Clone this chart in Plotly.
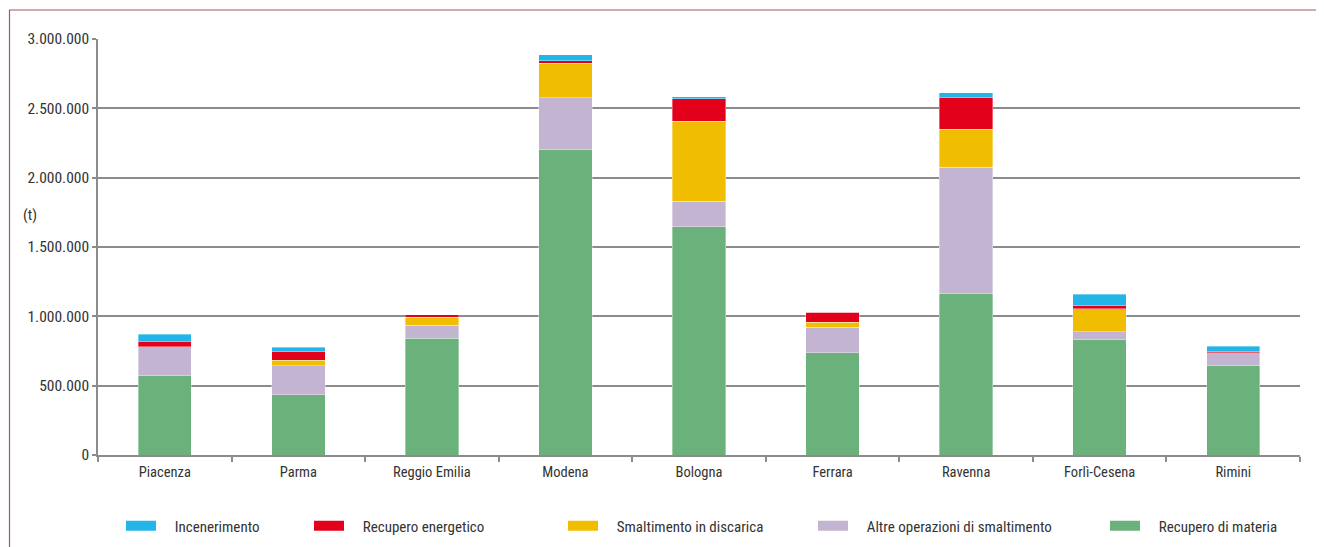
import plotly.graph_objects as go

provinces = ["Piacenza", "Parma", "Reggio Emilia", "Modena", "Bologna",
             "Ferrara", "Ravenna", "Forlì-Cesena", "Rimini"]

recupero_materia = [570000, 435000, 842000, 2202000, 1647000, 738000, 1166000, 834000, 642000]
altre_operazioni = [209000, 209000, 94000, 373000, 183000, 183000, 909000, 55000, 96000]
smaltimento_discarica = [0, 39000, 58000, 250000, 577000, 38000, 274000, 164000, 0]
recupero_energetico = [43000, 60000, 19000, 19000, 163000, 72000, 228000, 24000, 7000]
incenerimento = [50000, 34000, 0, 41000, 12000, 0, 36000, 84000, 39000]

y_ticks = [0, 500000, 1000000, 1500000, 2000000, 2500000, 3000000]

FONT = "Liberation Sans Narrow, Roboto Condensed, Arial Narrow, sans-serif"
TXT = "#333333"
GRID = "#8c8c8c"

# (name, values, colour, legend id, page x of the legend swatch's left edge)
series = [
    ("Recupero di materia", recupero_materia, "#6ab17b", "legend5", 1110),
    ("Altre operazioni di smaltimento", altre_operazioni, "#c3b4d2", "legend4", 818),
    ("Smaltimento in discarica", smaltimento_discarica, "#f0bd00", "legend3", 568),
    ("Recupero energetico", recupero_energetico, "#e2001a", "legend2", 314),
    ("Incenerimento", incenerimento, "#24b5e8", "legend", 126),
]

# the page body has an 8px margin: build the figure 8px smaller and work in page px
OFF = 8
PW, PH = 1324, 547
W, H = PW - OFF, PH - OFF
PL, PR, PT, PB = 98, 1300, 39, 455          # plot area in page px
L, T = PL - OFF, PT - OFF
R, B = W - (PR - OFF), H - (PB - OFF)
pw, ph = PR - PL, PB - PT
PAD = "\u00a0" * 4

def px_x(p):
    return (p - PL) / pw

def px_y(p):
    return (PB - p) / ph

fig = go.Figure()
legends = {}
for name, vals, color, leg, sx in series:
    fig.add_trace(go.Bar(
        x=provinces, y=vals, name=name, showlegend=False,
        marker=dict(color=color, line=dict(color="rgba(255,255,255,0.6)", width=0.6)),
        width=0.4,
        hovertemplate="%{x}<br>" + name + ": %{y:,d} t<extra></extra>",
    ))
    # legend-only entry drawn as a thick line swatch
    fig.add_trace(go.Scatter(
        x=[None], y=[None], mode="lines", name=PAD + name, legend=leg,
        line=dict(color=color, width=18), hoverinfo="skip",
    ))
    legends[leg] = dict(
        x=px_x(sx - 5), y=px_y(526), xanchor="left", yanchor="middle",
        orientation="h", bgcolor="rgba(0,0,0,0)",
        font=dict(family=FONT, size=15, color=TXT),
    )

fig.update_layout(
    width=W, height=H,
    margin=dict(l=L, r=R, t=T, b=B, autoexpand=False),
    barmode="stack",
    plot_bgcolor="white", paper_bgcolor="white",
    separators=",.",
    font=dict(family=FONT, size=14.5, color=TXT),
    showlegend=True,
    **legends,
)

fig.update_xaxes(
    type="category",
    showline=True, linecolor=GRID, linewidth=1.5,
    ticks="outside", tickson="boundaries", ticklen=5, tickcolor=GRID, tickwidth=1.5,
    tickfont=dict(family=FONT, size=14.5, color=TXT),
    ticklabelstandoff=3,
    showgrid=False,
)
fig.update_yaxes(
    range=[0, 3000000],
    tickvals=y_ticks, tickformat=",d",
    showgrid=True, gridcolor=GRID, gridwidth=1.5,
    zeroline=False,
    showline=True, linecolor=GRID, linewidth=1.5,
    ticks="outside", ticklen=4, tickcolor=GRID, tickwidth=1.5,
    tickfont=dict(family=FONT, size=15.5, color=TXT),
)

fig.add_annotation(
    text="(t)", xref="paper", yref="paper",
    x=px_x(21), y=px_y(215), xanchor="left", yanchor="middle",
    showarrow=False, font=dict(family=FONT, size=15, color=TXT),
)

BORDER = "#9e5a5a"
fig.add_shape(type="line", xref="paper", yref="paper",
              x0=px_x(9), x1=px_x(PW + 5), y0=px_y(10), y1=px_y(10),
              line=dict(color=BORDER, width=1.2))
fig.add_shape(type="line", xref="paper", yref="paper",
              x0=px_x(9.5), x1=px_x(9.5), y0=px_y(10), y1=px_y(PH + 5),
              line=dict(color=BORDER, width=1.2))

fig.write_html("out.html")
